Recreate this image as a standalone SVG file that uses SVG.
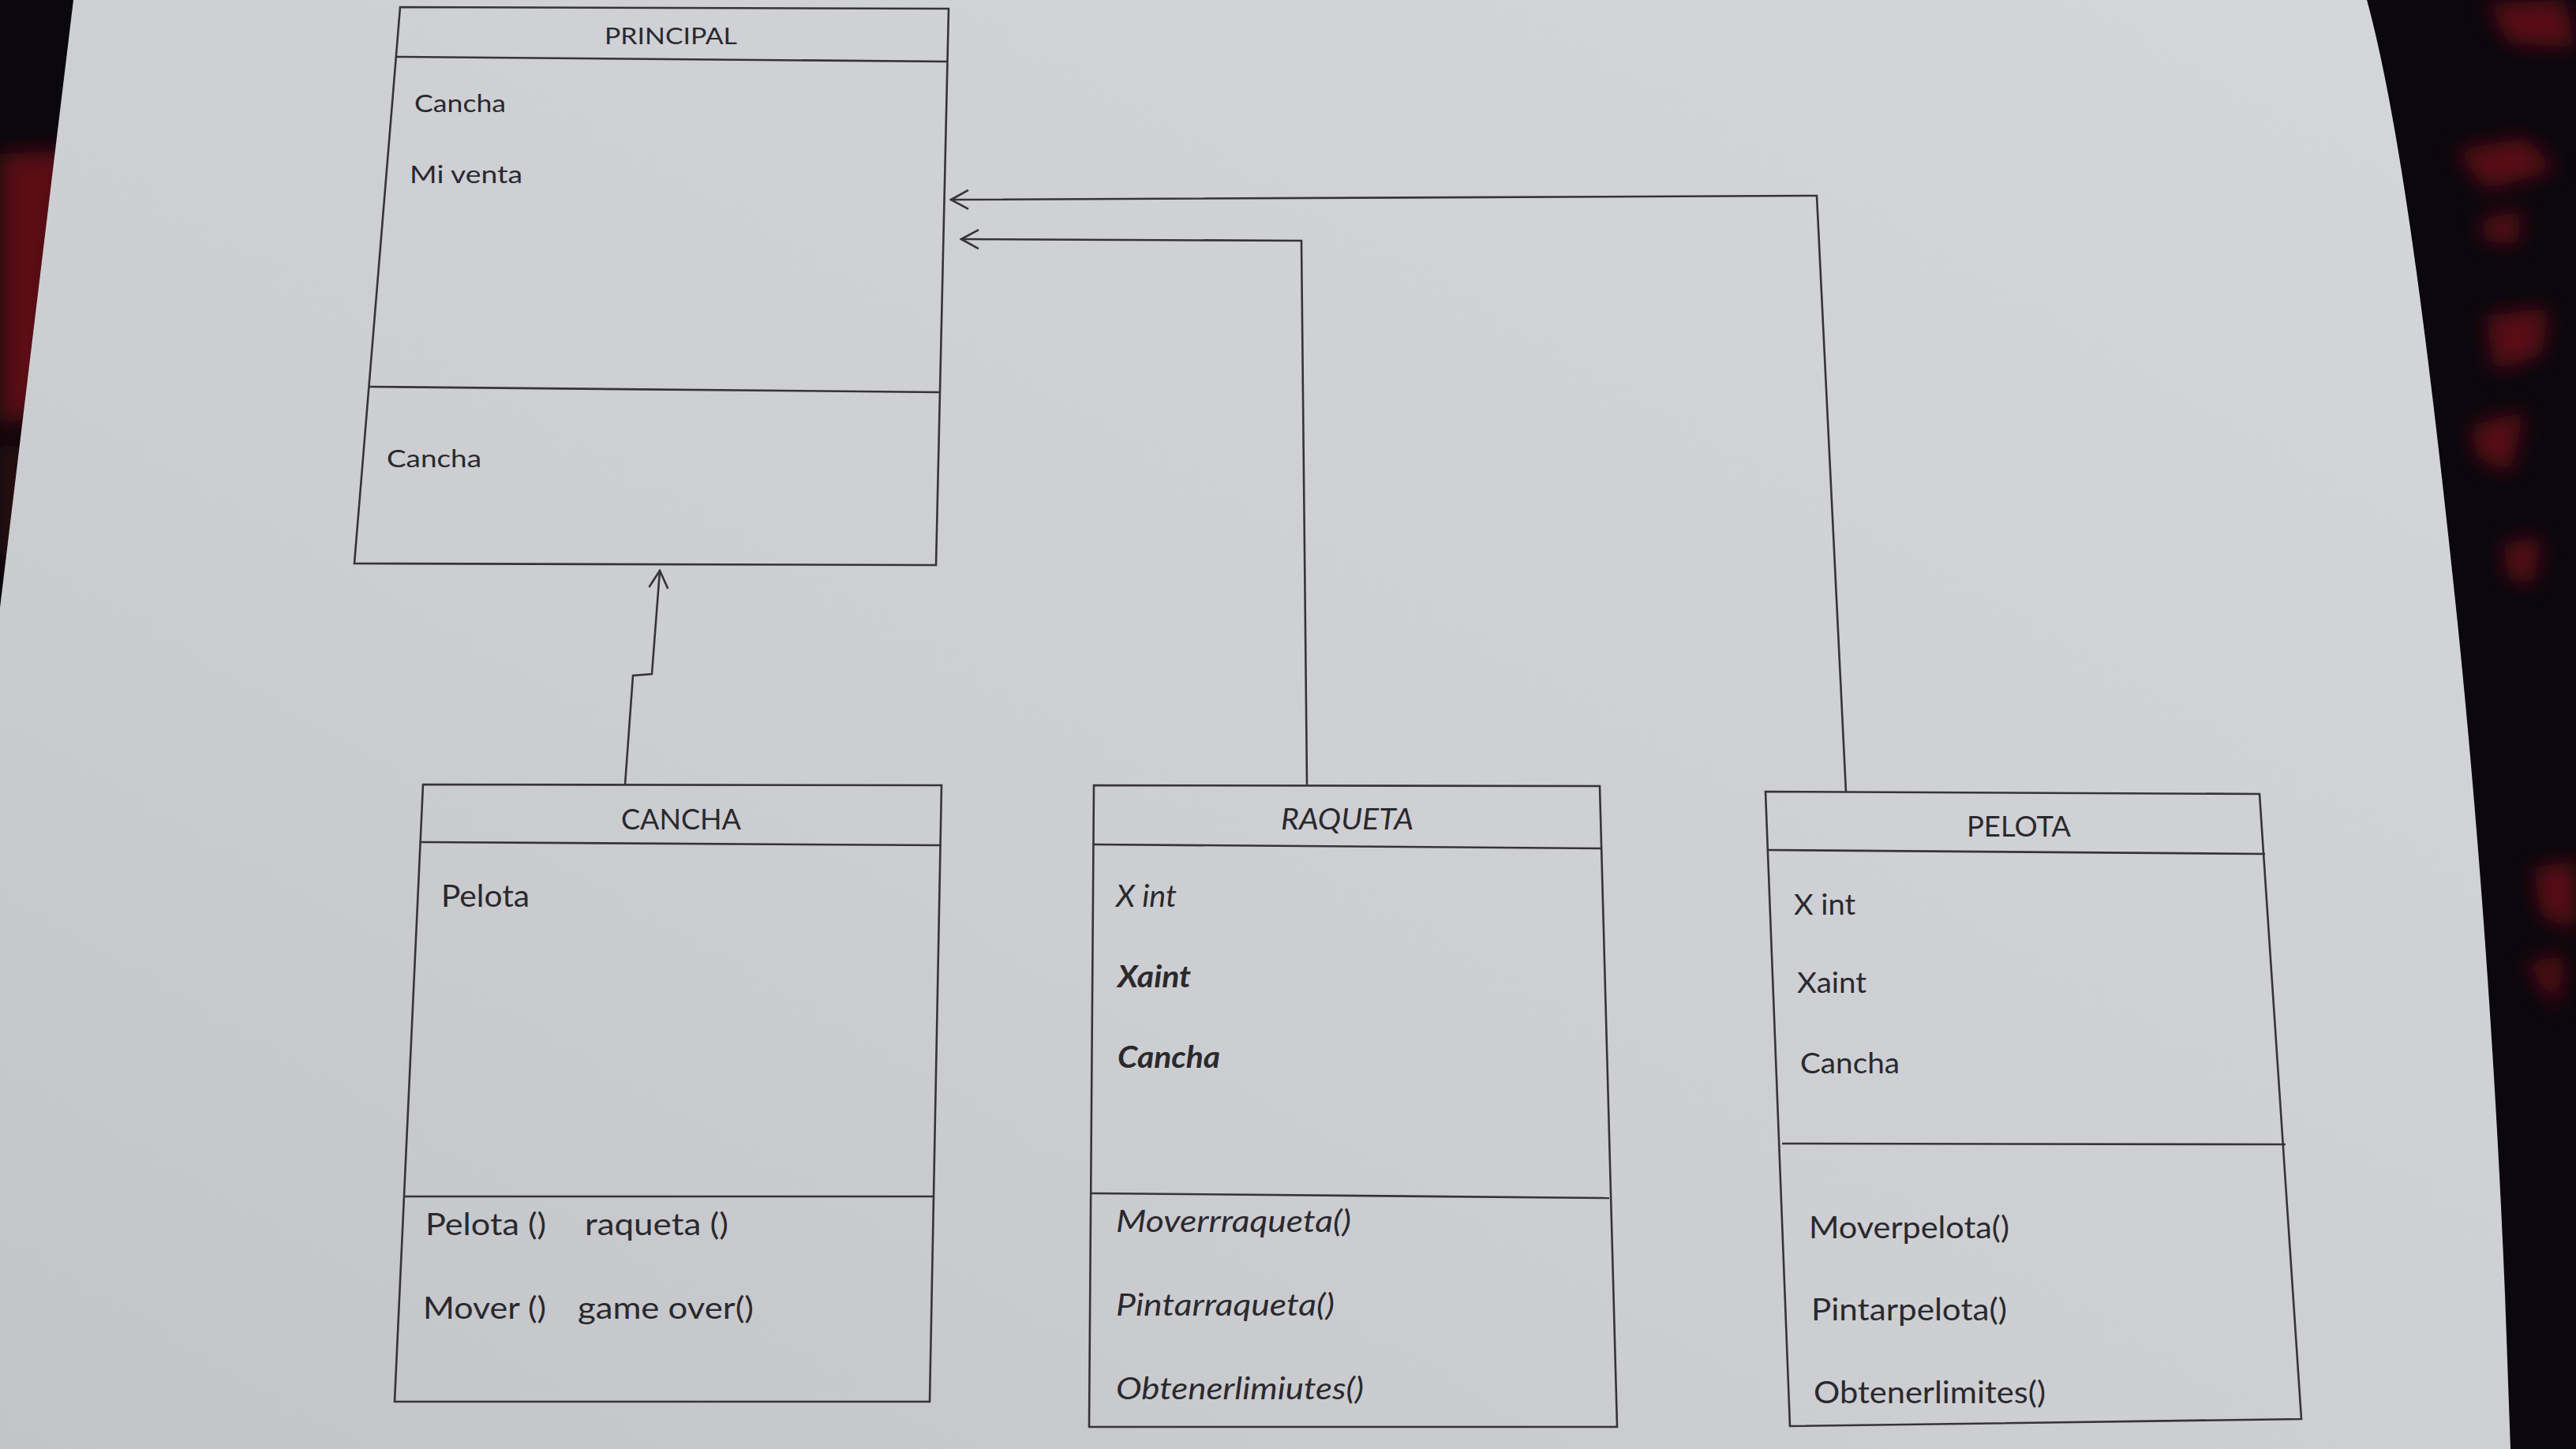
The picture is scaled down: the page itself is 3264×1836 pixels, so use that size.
<svg xmlns="http://www.w3.org/2000/svg" width="3264" height="1836" viewBox="0 0 3264 1836">
<defs>
<style>
.box{fill:none;stroke:#37333a;stroke-width:2.6;stroke-linejoin:miter}
.con{fill:none;stroke:#37333a;stroke-width:2.6}
.t{font-family:Lato,"Open Sans","Liberation Sans",sans-serif;fill:#2a292e}
.s1{font-size:29px}
.s2{font-size:31px}
.s3{font-size:37px}
.s4{font-size:39px}
.it{font-style:italic}
.bi{font-style:italic;font-weight:bold}
.mid{text-anchor:middle}
</style>
<linearGradient id="paper" x1="1" y1="0" x2="0" y2="1">
<stop offset="0" stop-color="#d5d6da"/>
<stop offset="0.6" stop-color="#cdced2"/>
<stop offset="1" stop-color="#c3c4c8"/>
</linearGradient>
<filter id="blur" x="-50%" y="-50%" width="200%" height="200%"><feGaussianBlur stdDeviation="14"/></filter>
<marker id="open" viewBox="0 0 26 28" refX="24" refY="14" markerWidth="26" markerHeight="28" markerUnits="userSpaceOnUse" orient="auto">
<path d="M2,2 L24,14 L2,26" fill="none" stroke="#37333a" stroke-width="2.6"/>
</marker>
</defs>
<g id="background">
<rect x="0" y="0" width="3264" height="1836" fill="#0a080e"/>
<g filter="url(#blur)" fill="#6a0a13" opacity="0.85">
<path d="M0,195 L90,190 L70,330 L60,520 L0,540 Z"/>
<path d="M0,560 L40,570 L30,700 L0,720 Z" fill="#300710"/>
<path d="M3150,5 L3250,0 L3264,60 L3180,55 Z"/>
<path d="M3110,190 L3200,175 L3240,215 L3150,240 Z"/>
<path d="M3140,280 L3195,265 L3190,310 L3150,305 Z"/>
<path d="M3150,400 L3230,390 L3220,450 L3160,470 Z"/>
<path d="M3130,540 L3200,520 L3180,600 L3140,580 Z"/>
<path d="M3170,690 L3220,680 L3210,740 L3180,735 Z"/>
<path d="M3210,1100 L3264,1090 L3264,1180 L3220,1160 Z"/>
<path d="M3200,1220 L3250,1210 L3240,1280 Z"/>
</g>
<path d="M93,0 L2999,0 C3040,150 3075,420 3111,761 C3135,990 3160,1300 3174,1640 L3181,1836 L0,1836 L0,770 Z" fill="url(#paper)"/>
</g>
<g id="connectors">
<path class="con" d="M792,994 L802,856 L826,854 L836,723" marker-end="url(#open)"/>
<path class="con" d="M1656,994 L1649,305 L1218,303" marker-end="url(#open)"/>
<path class="con" d="M2339,1004 L2302,248 L1205,253" marker-end="url(#open)"/>
</g>
<g id="principal">
<path class="box" d="M507,9 L1202,11 L1186,716 L449,714 Z"/>
<path class="box" d="M502,72 L1201,78"/>
<path class="box" d="M467,490 L1192,497"/>
<text class="t s1 mid" x="850" y="56" textLength="168" lengthAdjust="spacingAndGlyphs">PRINCIPAL</text>
<text class="t s2" x="525" y="142" textLength="116" lengthAdjust="spacingAndGlyphs">Cancha</text>
<text class="t s2" x="519" y="232" textLength="143" lengthAdjust="spacingAndGlyphs">Mi venta</text>
<text class="t s2" x="490" y="592" textLength="120" lengthAdjust="spacingAndGlyphs">Cancha</text>
</g>
<g id="cancha">
<path class="box" d="M536,994 L1193,995 L1178,1776 L500,1776 Z"/>
<path class="box" d="M534,1067 L1191,1071"/>
<path class="box" d="M511,1516 L1183,1516"/>
<text class="t s3 mid" x="863" y="1051" textLength="152" lengthAdjust="spacingAndGlyphs">CANCHA</text>
<text class="t s4" x="559" y="1149" textLength="112" lengthAdjust="spacingAndGlyphs">Pelota</text>
<text class="t s4" x="539" y="1565" textLength="153" lengthAdjust="spacingAndGlyphs">Pelota ()</text>
<text class="t s4" x="741" y="1565" textLength="182" lengthAdjust="spacingAndGlyphs">raqueta ()</text>
<text class="t s4" x="536" y="1671" textLength="156" lengthAdjust="spacingAndGlyphs">Mover ()</text>
<text class="t s4" x="732" y="1671" textLength="223" lengthAdjust="spacingAndGlyphs">game over()</text>
</g>
<g id="raqueta">
<path class="box" d="M1386,995 L2027,996 L2049,1808 L1380,1808 Z"/>
<path class="box" d="M1386,1070 L2028,1075"/>
<path class="box" d="M1382,1512 L2039,1518"/>
<text class="t s3 it mid" x="1707" y="1051" textLength="168" lengthAdjust="spacingAndGlyphs">RAQUETA</text>
<text class="t s4 it" x="1414" y="1149" textLength="77" lengthAdjust="spacingAndGlyphs">X int</text>
<text class="t s4 bi" x="1416" y="1251" textLength="93" lengthAdjust="spacingAndGlyphs">Xaint</text>
<text class="t s4 bi" x="1416" y="1353" textLength="130" lengthAdjust="spacingAndGlyphs">Cancha</text>
<text class="t s4 it" x="1414" y="1561" textLength="298" lengthAdjust="spacingAndGlyphs">Moverrraqueta()</text>
<text class="t s4 it" x="1414" y="1667" textLength="277" lengthAdjust="spacingAndGlyphs">Pintarraqueta()</text>
<text class="t s4 it" x="1414" y="1773" textLength="314" lengthAdjust="spacingAndGlyphs">Obtenerlimiutes()</text>
</g>
<g id="pelota">
<path class="box" d="M2237,1003 L2863,1006 L2916,1798 L2268,1807 Z"/>
<path class="box" d="M2239,1077 L2870,1082"/>
<path class="box" d="M2258,1449 L2896,1450"/>
<text class="t s3 mid" x="2558" y="1060" textLength="132" lengthAdjust="spacingAndGlyphs">PELOTA</text>
<text class="t s3" x="2273" y="1159" textLength="78" lengthAdjust="spacingAndGlyphs">X int</text>
<text class="t s3" x="2277" y="1258" textLength="88" lengthAdjust="spacingAndGlyphs">Xaint</text>
<text class="t s3" x="2281" y="1360" textLength="126" lengthAdjust="spacingAndGlyphs">Cancha</text>
<text class="t s4" x="2292" y="1569" textLength="254" lengthAdjust="spacingAndGlyphs">Moverpelota()</text>
<text class="t s4" x="2295" y="1673" textLength="248" lengthAdjust="spacingAndGlyphs">Pintarpelota()</text>
<text class="t s4" x="2298" y="1778" textLength="294" lengthAdjust="spacingAndGlyphs">Obtenerlimites()</text>
</g>
</svg>
